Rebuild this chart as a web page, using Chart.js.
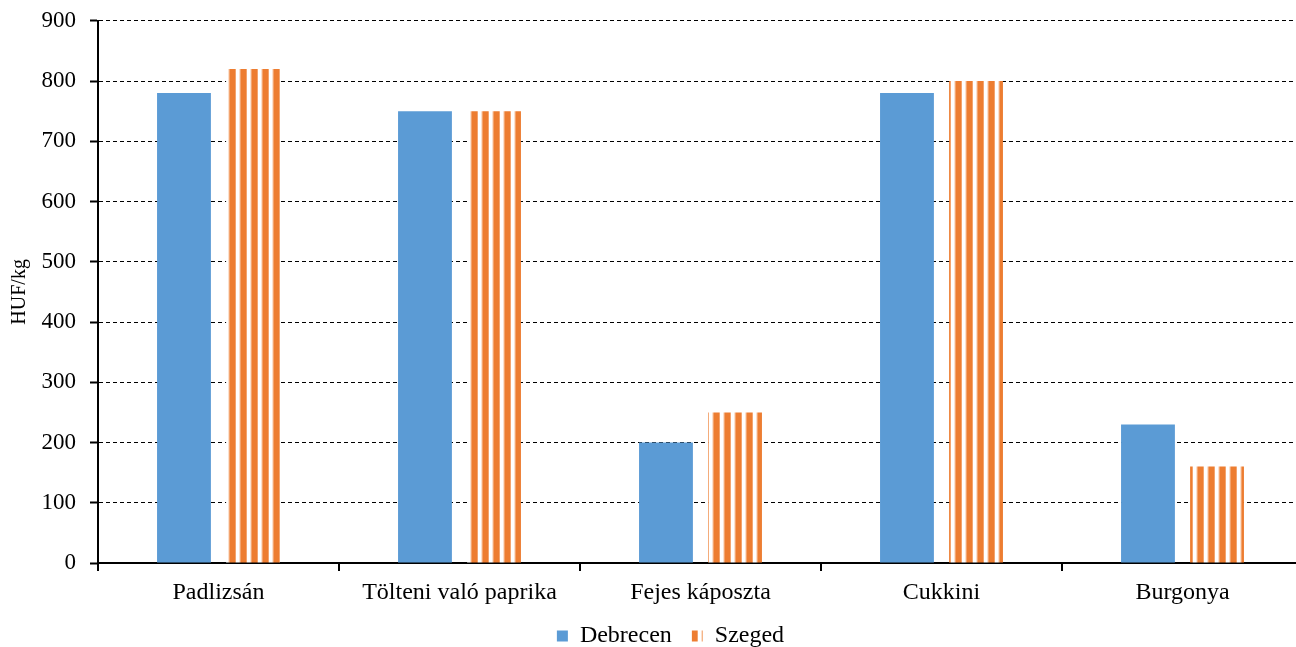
<!DOCTYPE html>
<html>
<head>
<meta charset="utf-8">
<script src="https://cdn.jsdelivr.net/npm/chart.js@4/dist/chart.umd.min.js"></script>
<style>
  html, body { margin: 0; padding: 0; overflow: hidden; background: #fff; }
  #wrap { position: relative; width: 1303px; height: 665px; margin-top: -7px; }
</style>
</head>
<body>
<div id="wrap"><canvas id="c"></canvas></div>
<script>
const categories = ['Padlizsán', 'Tölteni való paprika', 'Fejes káposzta', 'Cukkini', 'Burgonya'];
const debrecen = [780, 750, 200, 780, 230];
const szeged = [820, 750, 250, 800, 160];
const seriesNames = ['Debrecen', 'Szeged'];
const yTicks = [0, 100, 200, 300, 400, 500, 600, 700, 800, 900];
const yTitle = 'HUF/kg';

const FONT = "'Liberation Serif', 'Times New Roman', serif";

function stripePattern() {
  const p = document.createElement('canvas');
  p.width = 11; p.height = 10;
  const g = p.getContext('2d');
  g.fillStyle = '#ffffff'; g.fillRect(0, 0, 11, 10);
  g.fillStyle = '#ED7D31';
  g.fillRect(10, 0, 1, 10); g.fillRect(0, 0, 4, 10);
  g.fillStyle = '#f3a46e'; g.fillRect(9, 0, 1, 10); g.fillRect(4, 0, 1, 10);
  g.fillStyle = '#fbe0cd'; g.fillRect(8, 0, 1, 10);
  return document.getElementById('c').getContext('2d').createPattern(p, 'repeat');
}

const legendShift = {
  id: 'legendShift',
  afterLayout(chart) {
    if (chart.legend) { chart.legend.left += 19; chart.legend.right += 19; }
  }
};

new Chart(document.getElementById('c'), {
  type: 'bar',
  data: {
    labels: categories,
    datasets: [
      { label: seriesNames[0], data: debrecen, backgroundColor: '#5B9BD5', borderWidth: 0,
        categoryPercentage: 0.573, barPercentage: 0.78 },
      { label: seriesNames[1], data: szeged, backgroundColor: stripePattern(), borderWidth: 0,
        categoryPercentage: 0.573, barPercentage: 0.78 }
    ]
  },
  options: {
    responsive: true,
    maintainAspectRatio: false,
    animation: false,
    layout: { padding: { top: 13, left: 0, right: 0, bottom: 0 } },
    plugins: {
      tooltip: { enabled: false },
      legend: {
        position: 'bottom',
        labels: {
          font: { family: FONT, size: 24 },
          color: '#000',
          boxWidth: 11, boxHeight: 11,
          padding: 20
        }
      }
    },
    scales: {
      x: {
        grid: { display: true, drawOnChartArea: false, offset: true, color: '#000', lineWidth: 2, tickLength: 8 },
        border: { display: true, color: '#000', width: 2 },
        ticks: { font: { family: FONT, size: 24 }, color: '#000', padding: 7, maxRotation: 0, autoSkip: false },
        afterFit(scale) { scale.height = 41; }
      },
      y: {
        min: 0, max: 900,
        afterBuildTicks(scale) { scale.ticks = yTicks.map(v => ({ value: v })); },
        grid: { color: '#000', lineWidth: 1, tickColor: '#000', tickLength: 8, tickWidth: 2, tickBorderDash: [] },
        border: { display: true, color: '#000', width: 2, dash: [4, 3] },
        ticks: { font: { family: FONT, size: 23 }, color: '#000', padding: 14 },
        title: { display: true, text: yTitle, font: { family: FONT, size: 20 }, color: '#000', padding: { top: 8, bottom: 0 } },
        afterFit(scale) { scale.width = 98; }
      }
    }
  },
  plugins: [legendShift]
});
</script>
</body>
</html>
